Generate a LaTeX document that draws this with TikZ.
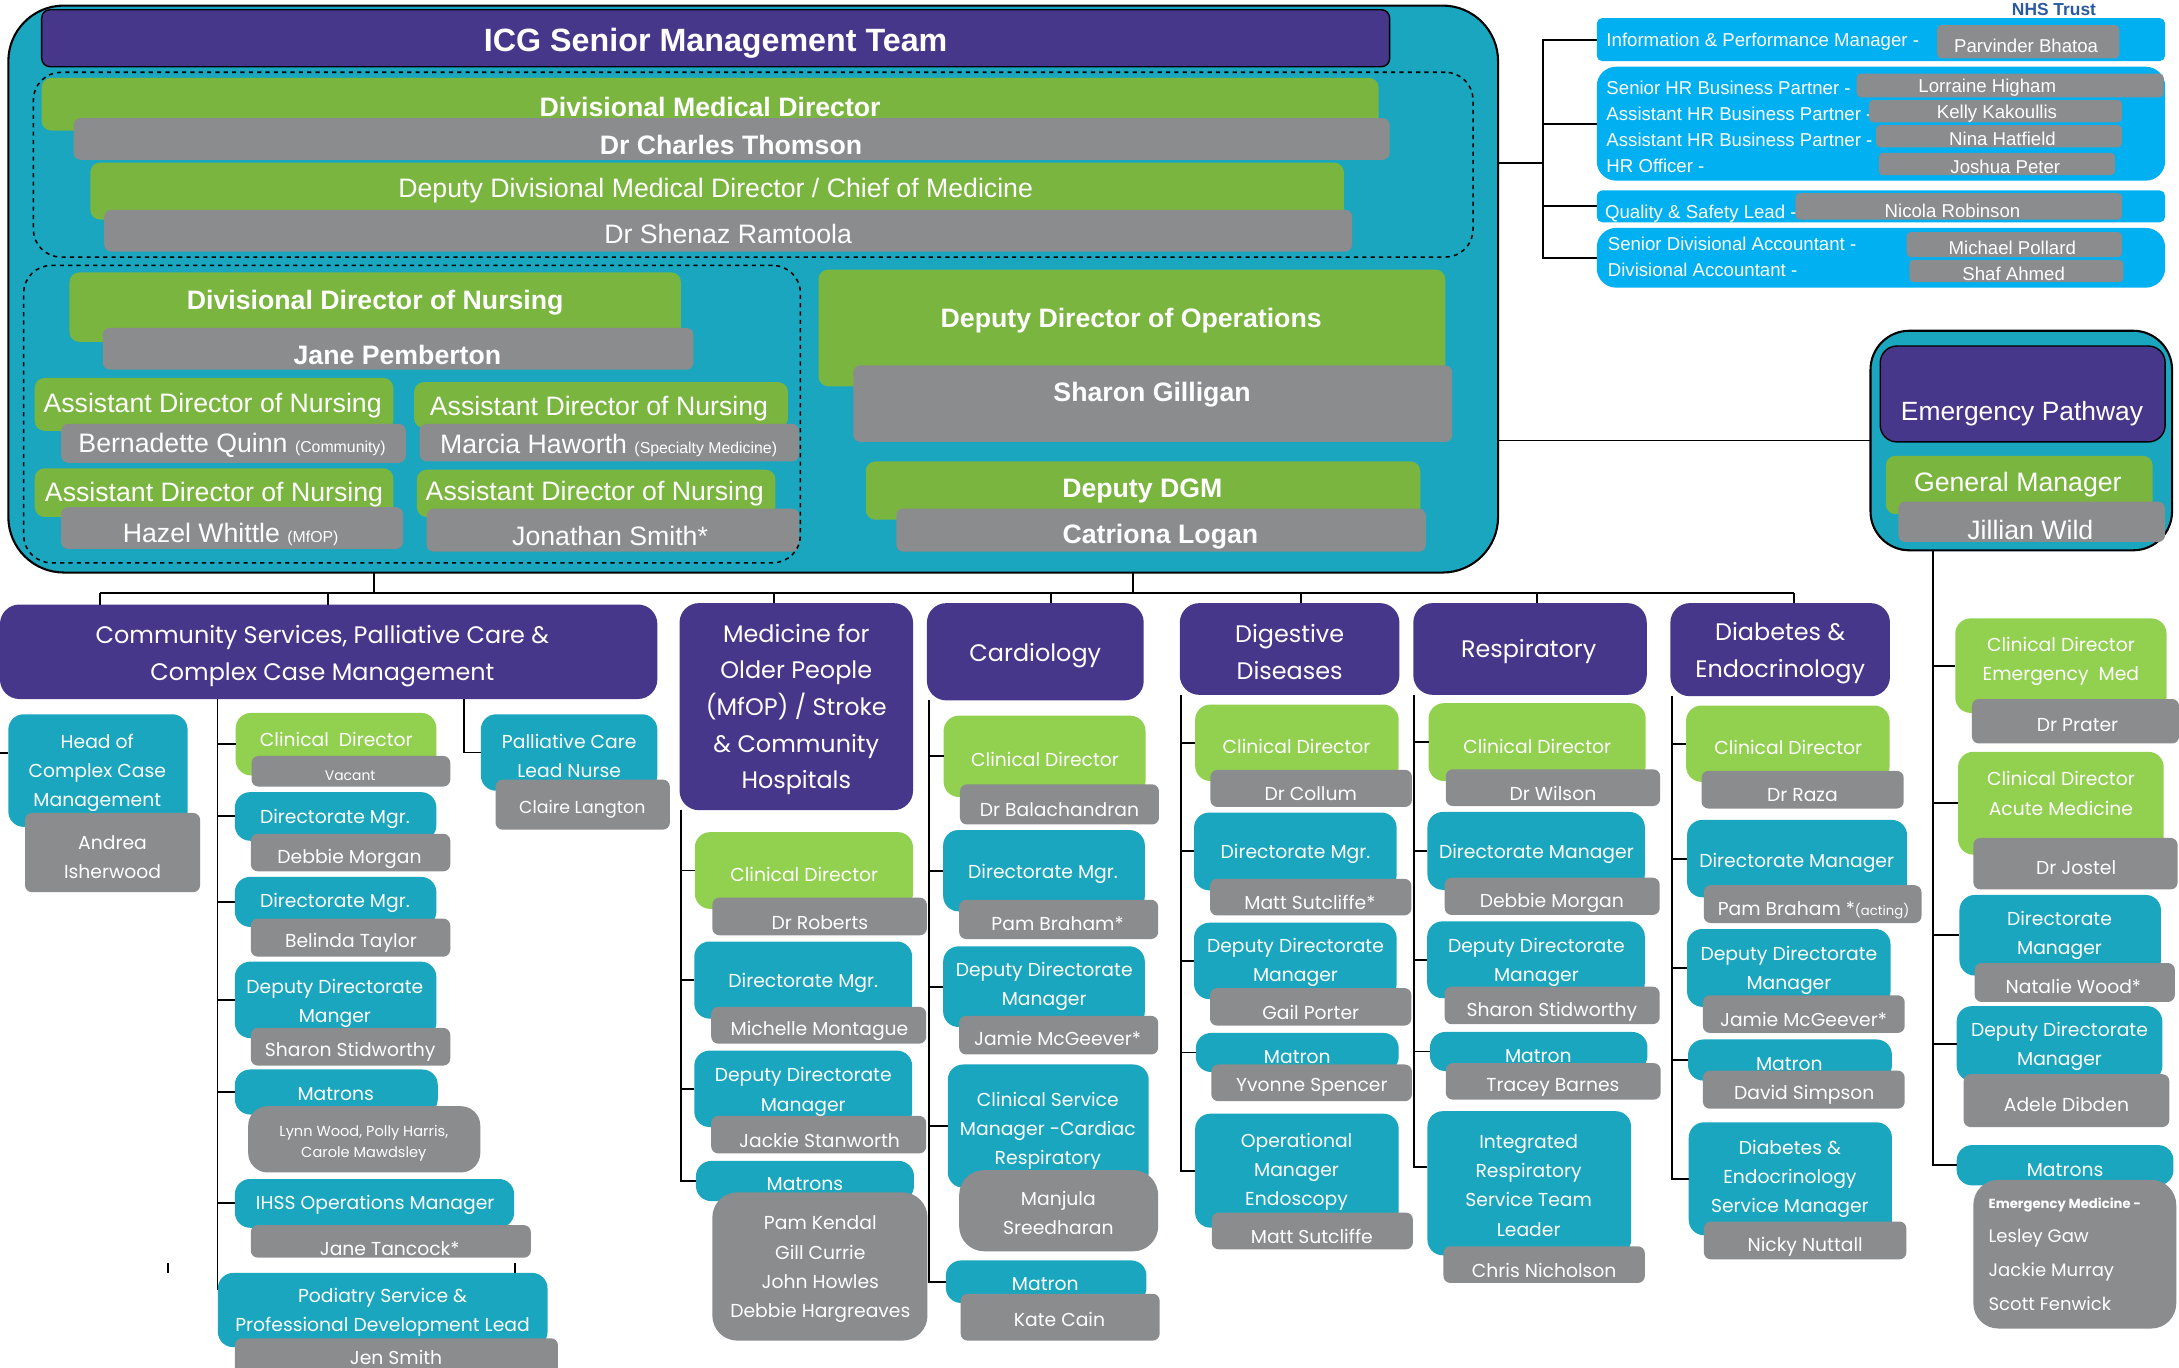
\documentclass[tikz,border=0pt]{standalone}
\usepackage{fontspec}
\setmainfont{Liberation Sans}
\newfontfamily\gothic{Poppins}
\usetikzlibrary{fit}
\definecolor{tealc}{HTML}{19A6BE}
\definecolor{purpc}{HTML}{46378A}
\definecolor{greenc}{HTML}{7AB53F}
\definecolor{lgreenc}{HTML}{92D050}
\definecolor{grayc}{HTML}{8B8C8E}
\definecolor{bluec}{HTML}{00B0F0}
\definecolor{nhsblue}{HTML}{2C5AA0}
\newcommand\fs[2]{\fontsize{#1}{#2}\selectfont}
\newcommand\B[9]{\node[#1,fit={(#3,#4)(#5,#6)}] (#2) {};\node[#1txt] (#2t) at (#7,#8) {#9};}
\tikzset{
 bx/.style={inner sep=0pt, outer sep=0pt},
 txtbase/.style={text=white, inner sep=0pt, outer sep=0pt, align=center},
 toptxt/.style={txtbase, yshift=-1.5pt},
 lowtxt/.style={txtbase, yshift=-2pt},
 outerbox/.style={bx, fill=tealc, draw=black, line width=1.5pt, rounded corners=40pt},
 outerbox2/.style={bx, fill=tealc, draw=black, line width=1.5pt, rounded corners=28pt},
 dbox/.style={bx, draw=black, dashed, line width=1.1pt, rounded corners=20pt},
 conn/.style={draw=black, line width=1.4pt},
 hdr/.style={bx, fill=purpc, draw=black, line width=1pt, rounded corners=6pt},
 hdrtxt/.style={toptxt, font=\bfseries\fs{23.2}{26}},
 tg/.style={bx, fill=greenc, rounded corners=7pt},
 tgtxt/.style={toptxt, font=\fs{19.2}{22}},
 tgy/.style={bx, fill=grayc, rounded corners=5pt},
 tgytxt/.style={toptxt, font=\fs{19.2}{22}},
 bb/.style={bx, fill=bluec, rounded corners=4pt},
 bbtxt/.style={toptxt, anchor=west, align=left, font=\fs{13.4}{18.7}},
 bbr/.style={bx, fill=bluec, rounded corners=14pt},
 bbrtxt/.style={toptxt, anchor=west, align=left, font=\fs{13.4}{18.7}},
 sg/.style={bx, fill=grayc, rounded corners=3pt},
 sgtxt/.style={toptxt, font=\fs{13.4}{15}},
 ppd/.style={bx, fill=purpc, draw=black, line width=1pt, rounded corners=12pt},
 ppdtxt/.style={toptxt, font=\fs{19}{22}},
 pp/.style={bx, fill=purpc, rounded corners=14pt},
 pptxt/.style={lowtxt, font=\gothic\fs{17.2}{26.3}},
 tl/.style={bx, fill=tealc, rounded corners=11pt},
 tltxt/.style={lowtxt, font=\gothic\fs{13.5}{21}},
 lg/.style={bx, fill=lgreenc, rounded corners=11pt},
 lgtxt/.style={lowtxt, font=\gothic\fs{13.5}{21}},
 gy/.style={bx, fill=grayc, rounded corners=5pt},
 gytxt/.style={lowtxt, font=\gothic\fs{13.5}{21}},
 gyr/.style={bx, fill=grayc, rounded corners=18pt},
 gyrtxt/.style={lowtxt, font=\gothic\fs{13.5}{21.1}},
 gyrs/.style={bx, fill=grayc, rounded corners=14pt},
 gyrstxt/.style={lowtxt, font=\gothic\fs{10.5}{15.5}},
 gyl/.style={bx, fill=grayc, rounded corners=18pt},
 gyltxt/.style={lowtxt, anchor=west, align=left, font=\gothic\fs{13}{24.5}},
}
\begin{document}
\begin{tikzpicture}[x=1pt,y=-1pt]
\path[use as bounding box] (0,0) rectangle (1568,984);
\clip (0,0) rectangle (1568,984);
\fill[white] (0,0) rectangle (1568,984);

\node[txtbase, text=nhsblue, anchor=base, font=\bfseries\fs{12.5}{14}] (nhs) at (1478,11) {NHS Trust};

% ===== ICG senior management team =====
\node[outerbox, fit={(6,4)(1078,412)}] (icg) {};
\B{hdr}{icgh}{30}{7}{1000}{48}{515}{29.5}{ICG Senior Management Team}

\B{tg}{dmd}{30}{56}{992}{94}{511}{75.5}{\bfseries Divisional Medical Director}
\B{tgy}{dmdn}{53}{85}{1000}{115}{526}{103}{\bfseries Dr Charles Thomson}
\B{tg}{ddmd}{65}{117}{967}{158}{515}{135.5}{Deputy Divisional Medical Director / Chief of Medicine}
\B{tgy}{ddmdn}{75}{151}{973}{181}{524}{167}{Dr Shenaz Ramtoola}

\B{tg}{ddn}{50}{196}{490}{246}{270}{216.5}{\bfseries Divisional Director of Nursing}
\B{tgy}{ddnn}{74}{236}{499}{266}{286}{254}{\bfseries Jane Pemberton}
\B{tg}{adn1}{25}{272}{283}{310}{153}{290.5}{Assistant Director of Nursing}
\B{tgy}{adn1n}{44}{305}{292}{333}{167}{319}{Bernadette Quinn {\fs{11.4}{13}(Community)}}
\B{tg}{adn2}{298}{275}{567}{308}{431}{292.5}{Assistant Director of Nursing}
\B{tgy}{adn2n}{302}{305}{575}{332}{438}{319}{Marcia Haworth {\fs{11.4}{13}(Specialty Medicine)}}
\B{tg}{adn3}{25}{337}{283}{372}{154}{354.5}{Assistant Director of Nursing}
\B{tgy}{adn3n}{44}{365}{290}{395}{166}{383}{Hazel Whittle {\fs{11.4}{13}(MfOP)}}
\B{tg}{adn4}{300}{338}{558}{372}{428}{353.5}{Assistant Director of Nursing}
\B{tgy}{adn4n}{307}{366}{575}{397}{439}{384}{Jonathan Smith*}

\B{tg}{ddo}{589}{194}{1040}{278}{814}{229.5}{\bfseries Deputy Director of Operations}
\B{tgy}{ddon}{614}{263}{1045}{318}{829}{282.5}{\bfseries Sharon Gilligan}
\B{tg}{dgm}{623}{332}{1022}{374}{822}{351.5}{\bfseries Deputy DGM}
\B{tgy}{dgmn}{645}{366}{1026}{397}{835}{384.5}{\bfseries Catriona Logan}

\node[dbox, fit={(24,52)(1060,185)}] (dash1) {};
\node[dbox, fit={(17,191)(576,405)}] (dash2) {};

% ===== top right =====
\B{bb}{ipm}{1149}{13}{1558}{44}{1156}{28.5}{Information \& Performance Manager -}
\B{sg}{ipmn}{1394}{18}{1525}{42}{1458}{31.5}{Parvinder Bhatoa}
\B{bbr}{hr}{1149}{48}{1558}{130}{1156}{89.5}{Senior HR Business Partner -\\Assistant HR Business Partner -\\Assistant HR Business Partner -\\HR Officer -}
\B{sg}{hr1}{1336}{53}{1557}{70}{1430}{61.5}{Lorraine Higham}
\B{sg}{hr2}{1345}{72}{1527}{88}{1437}{80.5}{Kelly Kakoullis}
\B{sg}{hr3}{1350}{90}{1527}{106}{1441}{98.5}{Nina Hatfield}
\B{sg}{hr4}{1352}{110}{1522}{126}{1443}{118.5}{Joshua Peter}
\B{bb}{qs}{1149}{137}{1558}{160}{1155}{152}{Quality \& Safety Lead -}
\B{sg}{qsn}{1292}{139}{1527}{158}{1405}{150}{Nicola Robinson}
\B{bbr}{acc}{1149}{164}{1558}{207}{1157}{183.5}{Senior Divisional Accountant -\\Divisional Accountant -}
\B{sg}{acc1}{1372}{167}{1527}{185}{1448}{176.5}{Michael Pollard}
\B{sg}{acc2}{1374}{187}{1528}{203}{1449}{195.5}{Shaf Ahmed}

\coordinate (br) at (1110,117);
\draw[conn] (icg.east |- br) -- (br);
\draw[conn] (ipm.west) -- (ipm.west -| br) -- (acc.west -| br) -- (acc.west);
\draw[conn] (hr.west -| br) -- (hr.west);
\draw[conn] (qs.west -| br) -- (qs.west);

% ===== Emergency pathway =====
\node[outerbox2, fit={(1346,238)(1563,396)}] (emg) {};
\B{ppd}{ep}{1353}{249}{1558}{318}{1455}{296.5}{Emergency Pathway}
\B{tg}{gm}{1357}{328}{1549}{370}{1452}{347}{General Manager}
\B{tgy}{gmn}{1366}{361}{1558}{390}{1461}{379.5}{Jillian Wild}
\draw[conn] (icg.east |- emg.west) -- (emg.west);

% ===== main bus =====
\draw[conn] (269,0 |- icg.south) -- (269,427);
\draw[conn] (815,0 |- icg.south) -- (815,427);
\draw[conn] (72,427) -- (1291,427);

% ===== department headers =====
\B{pp}{com}{0}{435}{473}{503}{232}{470}{Community Services, Palliative Care \&\\Complex Case Management}
\B{pp}{mfop}{489}{434}{657}{583}{573}{508.5}{Medicine for\\Older People\\(MfOP) / Stroke\\\& Community\\Hospitals}
\B{pp}{car}{667}{434}{823}{504}{745}{470}{Cardiology}
\B{pp}{dig}{849}{434}{1007}{500}{928}{467}{Digestive\\Diseases}
\B{pp}{res}{1017}{434}{1185}{500}{1100}{467}{Respiratory}
\B{pp}{dia}{1202}{434}{1360}{501}{1281}{468}{Diabetes \&\\Endocrinology}

\draw[conn] (72,427) -- (72,0 |- com.north);
\draw[conn] (236,427) -- (236,0 |- com.north);
\draw[conn] (557,427) -- (557,0 |- mfop.north);
\draw[conn] (756,427) -- (756,0 |- car.north);
\draw[conn] (936,427) -- (936,0 |- dig.north);
\draw[conn] (1106,427) -- (1106,0 |- res.north);
\draw[conn] (1291,427) -- (1291,0 |- dia.north);

% ===== Community column =====
\B{tl}{hcc}{6}{514}{135}{595}{70}{554}{Head of\\Complex Case\\Management}
\B{gy}{hccn}{18}{585}{144}{642}{81}{614.5}{Andrea\\Isherwood}
\coordinate (lft) at (0,542);
\draw[conn] (lft) -- (lft -| hcc.west);

\B{tl}{pal}{346}{514}{473}{569}{409.6}{542}{Palliative Care\\Lead Nurse}
\B{gy}{paln}{356.6}{561}{482}{597}{419}{580}{\fs{12.5}{15}Claire Langton}
\draw[conn] (334,0 |- com.south) |- (pal.west);

\B{lg}{ccd}{169.6}{513}{314}{558}{242}{530}{Clinical\ \ Director}
\B{gy}{ccdn}{181}{544}{324}{566}{252}{556.5}{\fs{10}{12}Vacant}
\B{tl}{cdm1}{169}{570}{314}{605}{241}{587}{Directorate Mgr.}
\B{gy}{cdm1n}{180.5}{600}{324}{627}{251.5}{616}{Debbie Morgan}
\B{tl}{cdm2}{169}{631}{314}{667}{241}{648}{Directorate Mgr.}
\B{gy}{cdm2n}{180.5}{661}{324}{688.4}{252.5}{676.6}{Belinda Taylor}
\B{tl}{cddm}{169}{692}{314}{747}{241}{720}{Deputy Directorate\\Manger}
\B{gy}{cddmn}{180.5}{739.7}{324}{766.8}{252}{754.5}{Sharon Stidworthy}
\B{tl}{cmat}{169}{769.6}{315}{802}{241.6}{785.5}{Matrons}
\B{gyrs}{cmatn}{178.6}{796}{345.6}{843.7}{261.8}{820.7}{Lynn Wood, Polly Harris,\\Carole Mawdsley}
\B{tl}{cihss}{169}{848.4}{370}{883.5}{270}{865}{IHSS Operations Manager}
\B{gy}{cihssn}{180.5}{881.6}{382}{905}{280.4}{896.5}{Jane Tancock*}
\B{tl}{cpod}{156.8}{916}{394}{969.4}{275.3}{942.5}{Podiatry Service \&\\Professional Development Lead}
\B{gy}{cpodn}{169}{963}{401.5}{992}{285}{974.5}{Jen Smith}

\draw[conn] (156.5,0 |- com.south) -- (156.5,0 |- cpod.north) -- ++(0,12);
\foreach \n in {ccd,cdm1,cdm2,cddm,cmat,cihss}
  \draw[conn] (156.5,0 |- \n.west) -- (\n.west);
\draw[conn] (121,909) -- (121,916);
\draw[conn] (370.4,909) -- (370.4,916);

% ===== MfOP column =====
\B{lg}{mcd}{500}{598.8}{657}{654}{578.7}{627}{Clinical Director}
\B{gy}{mcdn}{512.6}{646}{667}{673}{590}{661.6}{Dr Roberts}
\B{tl}{mdm}{499.6}{677.5}{656.4}{733}{578}{705.5}{Directorate Mgr.}
\B{gy}{mdmn}{511.8}{724.5}{666.5}{751}{589.7}{740}{Michelle Montague}
\B{tl}{mddm}{499.6}{756}{656.4}{811}{578}{783.7}{Deputy Directorate\\Manager}
\B{gy}{mddmn}{511.8}{803}{666.5}{830}{589.7}{818.4}{Jackie Stanworth}
\B{tl}{mmat}{500.8}{835.4}{657.7}{864.3}{579.2}{850.2}{Matrons}
\B{gyr}{mmatn}{512.6}{858}{667.4}{964.7}{590.3}{911.4}{Pam Kendal\\Gill Currie\\John Howles\\Debbie Hargreaves}
\draw[conn] (490.3,0 |- mfop.south) |- (mmat.west);
\foreach \n in {mcd,mdm,mddm}
  \draw[conn] (490.3,0 |- \n.west) -- (\n.west);

% ===== Cardiology column =====
\B{lg}{kcd}{679}{515}{824.3}{573.5}{752}{544.6}{Clinical Director}
\B{gy}{kcdn}{690.8}{564.4}{834}{593.3}{762.4}{580.3}{Dr Balachandran}
\B{tl}{kdm}{678.7}{597.3}{823.8}{655.8}{750.5}{627}{Directorate Mgr.}
\B{gy}{kdmn}{690.2}{647.5}{833.4}{675.7}{761}{663}{Pam Braham*}
\B{tl}{kddm}{678.7}{681}{823.8}{739}{751.4}{708}{Deputy Directorate\\Manager}
\B{gy}{kddmn}{690.2}{731}{833.4}{758.8}{761}{745.4}{Jamie McGeever*}
\B{tl}{kcsm}{682}{766}{826.6}{854.6}{754}{811.5}{Clinical Service\\Manager -Cardiac\\Respiratory}
\B{gyr}{kcsmn}{690.2}{842}{833.4}{900.4}{761.6}{870.8}{Manjula\\Sreedharan}
\B{tl}{kmat}{680.6}{907}{825}{937.6}{752.2}{922}{Matron}
\B{gy}{kmatn}{691.3}{931}{834.5}{964.7}{762.4}{947.7}{Kate Cain}
\draw[conn] (668.7,0 |- car.south) |- (kmat.west);
\foreach \n in {kcd,kdm,kddm,kcsm}
  \draw[conn] (668.7,0 |- \n.west) -- (\n.west);

% ===== Digestive column =====
\B{lg}{gcd}{860}{507}{1006.5}{562}{933}{535}{Clinical Director}
\B{gy}{gcdn}{871}{554}{1016}{580.7}{943.2}{569}{Dr Collum}
\B{tl}{gdm}{859.2}{584.7}{1005}{640.7}{932.2}{612.5}{Directorate Mgr.}
\B{gy}{gdmn}{870.7}{632.4}{1015.6}{658.7}{942.6}{647.5}{Matt Sutcliffe*}
\B{tl}{gddm}{859.2}{664}{1005}{719}{932.2}{690.7}{Deputy Directorate\\Manager}
\B{gy}{gddmn}{870.7}{711}{1015.6}{738}{943.2}{726.3}{Gail Porter}
\B{tl}{gmat}{860.5}{743.3}{1006.5}{771.4}{933.5}{758.8}{Matron}
\B{gy}{gmatn}{871.6}{766}{1016}{792.4}{944}{780.5}{Yvonne Spencer}
\B{tl}{gopm}{860}{801.4}{1006.5}{883.4}{933}{841}{Operational\\Manager\\Endoscopy}
\B{gy}{gopmn}{872}{872.6}{1016.7}{899}{944}{887.8}{Matt Sutcliffe}
\draw[conn] (849.5,0 |- dig.south) |- (gopm.west);
\foreach \n in {gcd,gdm,gddm,gmat}
  \draw[conn] (849.5,0 |- \n.west) -- (\n.west);

% ===== Respiratory column =====
\B{lg}{rcd}{1028}{506}{1184.2}{562}{1106.2}{534.8}{Clinical Director}
\B{gy}{rcdn}{1040.4}{553.6}{1194.6}{580}{1117.5}{569}{Dr Wilson}
\B{tl}{rdm}{1027.2}{584.3}{1183.6}{640.3}{1105.6}{612.5}{Directorate Manager}
\B{gy}{rdmn}{1039.6}{631.6}{1194.3}{658.4}{1116.7}{647.5}{Debbie Morgan}
\B{tl}{rddm}{1027}{663}{1183.6}{718.3}{1105.6}{690.7}{Deputy Directorate\\Manager}
\B{gy}{rddmn}{1039.6}{710}{1194.3}{737}{1116.7}{726.3}{Sharon Stidworthy}
\B{tl}{rmat}{1029}{742.6}{1185.5}{770.7}{1107}{757.7}{Matron}
\B{gy}{rmatn}{1040.4}{765}{1195}{791.3}{1117.5}{780.5}{Tracey Barnes}
\B{tl}{rirs}{1027.2}{799.6}{1173.7}{903.3}{1100}{851}{Integrated\\Respiratory\\Service Team\\Leader}
\B{gy}{rirsn}{1038.7}{896.8}{1183.6}{923.2}{1111.2}{912.3}{Chris Nicholson}
\draw[conn] (1017.5,0 |- res.south) |- ([yshift=11.5pt]rirs.west);
\foreach \n in {rcd,rdm,rddm,rmat}
  \draw[conn] (1017.5,0 |- \n.west) -- (\n.west);

% ===== Diabetes column =====
\B{lg}{dcd}{1213.3}{507.7}{1359.7}{562.6}{1286.8}{535.9}{Clinical Director}
\B{gy}{dcdn}{1224.4}{554.7}{1369.9}{581.8}{1297}{569.9}{Dr Raza}
\B{tl}{ddm}{1214}{590}{1372.3}{645.7}{1292.9}{618.6}{Directorate Manager}
\B{gy}{ddmn}{1226}{637}{1382.7}{664.2}{1305}{653}{Pam Braham *{\fs{9.5}{12}(acting)}}
\B{tl}{dddm}{1214}{668.5}{1360.4}{724.5}{1287.3}{696}{Deputy Directorate\\Manager}
\B{gy}{dddmn}{1225.4}{716.2}{1370.6}{743.3}{1297.8}{731.7}{Jamie McGeever*}
\B{tl}{dmat}{1214.7}{748}{1361.4}{777.6}{1287.6}{763.5}{Matron}
\B{gy}{dmatn}{1225.4}{770.4}{1370.6}{797.8}{1298.3}{785.9}{David Simpson}
\B{tl}{desm}{1215.2}{807.6}{1361.4}{888.9}{1288}{846.5}{Diabetes \&\\Endocrinology\\Service Manager}
\B{gy}{desmn}{1226.1}{879}{1371.8}{906.2}{1299}{895}{Nicky Nuttall}
\draw[conn] (1203,0 |- dia.south) |- (desm.west);
\foreach \n in {dcd,ddm,dddm,dmat}
  \draw[conn] (1203,0 |- \n.west) -- (\n.west);

% ===== Emergency column =====
\B{lg}{ecd1}{1407}{445}{1559}{513}{1483}{474}{Clinical Director\\Emergency\ \ Med}
\B{gy}{ecd1n}{1419}{503}{1568}{535}{1495}{520}{Dr Prater}
\B{lg}{ecd2}{1409}{541}{1557}{615}{1483}{569}{Clinical Director\\Acute Medicine}
\B{gy}{ecd2n}{1420}{603}{1567}{640}{1494}{622}{Dr Jostel}
\B{tl}{edm}{1410}{644}{1555}{702}{1482}{671}{Directorate\\Manager}
\B{gy}{edmn}{1421}{693}{1565}{721}{1492}{708}{Natalie Wood*}
\B{tl}{eddm}{1408}{724}{1556}{778}{1482}{751}{Deputy Directorate\\Manager}
\B{gy}{eddmn}{1413}{773}{1561}{811}{1487}{793}{Adele Dibden}
\B{tl}{emat}{1408}{824}{1564}{853}{1486}{840}{Matrons}
\B{gyl}{ematn}{1420}{849}{1566}{956}{1431}{911.5}{Lesley Gaw\\Jackie Murray\\Scott Fenwick}
\node[txtbase, anchor=west, font=\gothic\bfseries\fs{9.5}{12}] (emh) at (1431,867) {Emergency Medicine -};
\draw[conn] (1391,0 |- emg.south) |- (emat.west);
\foreach \n in {ecd1,ecd2,edm,eddm}
  \draw[conn] (1391,0 |- \n.west) -- (\n.west);
\end{tikzpicture}
\end{document}
